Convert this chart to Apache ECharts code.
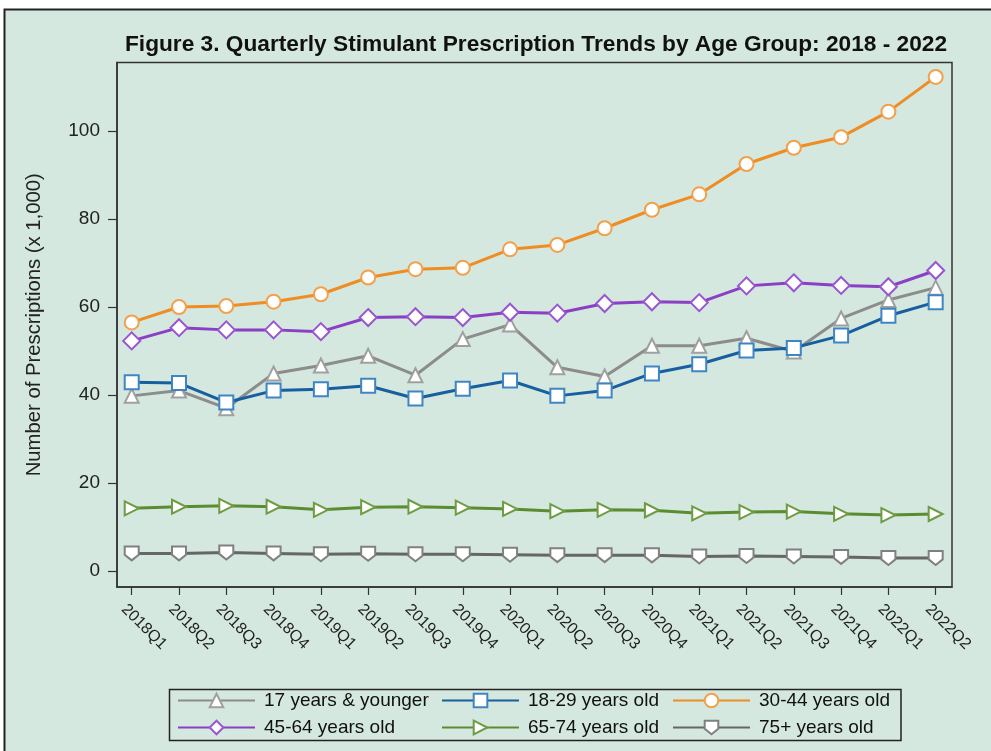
<!DOCTYPE html>
<html>
<head>
<meta charset="utf-8">
<script src="https://cdn.jsdelivr.net/npm/echarts@6/dist/echarts.min.js"></script>
<style>
html,body{margin:0;padding:0;background:#ffffff;}
#chart{width:991px;height:751px;}
</style>
</head>
<body>
<div id="chart"></div>
<script>
const categories = ['2018Q1','2018Q2','2018Q3','2018Q4','2019Q1','2019Q2','2019Q3','2019Q4','2020Q1','2020Q2','2020Q3','2020Q4','2021Q1','2021Q2','2021Q3','2021Q4','2022Q1','2022Q2'];
const age17Under = [39.8,41.0,37.0,44.9,46.7,48.9,44.5,52.7,56.0,46.3,44.2,51.2,51.2,52.9,49.9,57.4,61.6,64.4];
const age18to29 = [42.9,42.7,38.3,41.0,41.3,42.1,39.2,41.4,43.3,39.8,41.0,44.9,47.0,50.1,50.7,53.5,58.0,61.1];
const age30to44 = [56.5,60.0,60.2,61.2,62.9,66.7,68.6,68.9,73.1,74.1,77.9,82.1,85.6,92.5,96.2,98.6,104.4,112.3];
const age45to64 = [52.3,55.3,54.8,54.8,54.4,57.6,57.8,57.6,58.8,58.6,60.8,61.2,61.0,64.8,65.5,64.9,64.6,68.3];
const age65to74 = [14.25,14.6,14.8,14.6,13.9,14.5,14.6,14.4,14.1,13.6,13.9,13.8,13.1,13.4,13.5,13.0,12.7,12.95];
const age75Plus = [4.0,4.0,4.2,4.0,3.8,3.9,3.8,3.8,3.7,3.6,3.6,3.55,3.3,3.4,3.3,3.2,2.95,2.95];
const yTicks = [0,20,40,60,80,100];
const seriesNames = ['17 years & younger','18-29 years old','30-44 years old','45-64 years old','65-74 years old','75+ years old'];

const FONT = '"Liberation Sans", Arial, sans-serif';
const pts = arr => arr.map((v, i) => [i, v]);
const xIdx = categories.map((c, i) => i);

function mk(name, data, lineColor, markerBorder, symbol, size) {
  return {
    name: name, type: 'line', data: pts(data),
    symbol: symbol, symbolSize: size,
    lineStyle: {color: lineColor, width: 3},
    itemStyle: {color: '#ffffff', borderColor: markerBorder, borderWidth: 2},
    emphasis: {disabled: true},
    animation: false
  };
}

const legendText = {fontFamily: FONT, fontSize: 19, color: '#111', padding: [0,0,0,4]};

const chart = echarts.init(document.getElementById('chart'), null, {renderer: 'canvas'});
const option = {
  backgroundColor: 'transparent',
  animation: false,
  title: {
    text: 'Figure 3. Quarterly Stimulant Prescription Trends by Age Group: 2018 - 2022',
    left: 531, top: 28, textAlign: 'center',
    textStyle: {fontFamily: FONT, fontSize: 22.7, fontWeight: 'bold', color: '#111'}
  },
  graphic: [
    {type: 'rect', z: -10, shape: {x: 4.5, y: 9.5, width: 1100, height: 900},
     style: {fill: '#d4e8df', stroke: '#222', lineWidth: 2}},
    {type: 'rect', z: 10, shape: {x: 169.5, y: 689.5, width: 731.5, height: 51},
     style: {fill: 'none', stroke: '#222', lineWidth: 1.5}}
  ],
  grid: {left: 117, top: 62.5, right: 39, bottom: 164, show: true, borderColor: '#333', borderWidth: 1.5, backgroundColor: 'transparent'},
  xAxis: {
    type: 'value', min: -0.311, max: 17.345,
    axisLine: {show: true, onZero: false, lineStyle: {color: '#333', width: 1.5}},
    axisTick: {show: true, customValues: xIdx, length: 8, lineStyle: {color: '#333', width: 1.2}},
    axisLabel: {customValues: xIdx, formatter: v => categories[Math.round(v)], rotate: -45, margin: 12,
      verticalAlign: 'top', lineHeight: 22,
      fontFamily: FONT, fontSize: 16, color: '#222'},
    splitLine: {show: false}
  },
  yAxis: {
    type: 'value', min: -3.64, max: 115.57,
    name: 'Number of Prescriptions (x 1,000)', nameLocation: 'middle', nameGap: 73,
    nameTextStyle: {fontFamily: FONT, fontSize: 20.3, color: '#222'},
    axisLine: {show: true, onZero: false, lineStyle: {color: '#333', width: 1.5}},
    axisTick: {show: true, customValues: yTicks, length: 9, lineStyle: {color: '#333', width: 1.2}},
    axisLabel: {customValues: yTicks, margin: 17, fontFamily: FONT, fontSize: 19, color: '#222'},
    splitLine: {show: false}
  },
  legend: [
    {data: [seriesNames[0], seriesNames[3]], orient: 'vertical', left: 177, top: 691, padding: 0,
     itemWidth: 77, itemHeight: 17, itemGap: 8, textStyle: legendText},
    {data: [seriesNames[1], seriesNames[4]], orient: 'vertical', left: 441, top: 691, padding: 0,
     itemWidth: 77, itemHeight: 17, itemGap: 8, textStyle: legendText},
    {data: [seriesNames[2], seriesNames[5]], orient: 'vertical', left: 672, top: 691, padding: 0,
     itemWidth: 77, itemHeight: 17, itemGap: 8, textStyle: legendText}
  ],
  series: [
    mk(seriesNames[0], age17Under, '#8c8c8c', '#a0a0a0', 'triangle', 14),
    mk(seriesNames[1], age18to29, '#175f9e', '#3f85c4', 'rect', 14),
    mk(seriesNames[2], age30to44, '#ef8c22', '#f3a04c', 'circle', 14),
    mk(seriesNames[3], age45to64, '#8a3fc4', '#9a55d0', 'diamond', 17),
    mk(seriesNames[4], age65to74, '#5b8c31', '#6e9c44', 'path://M0,0 L10,5 L0,10 Z', 14),
    mk(seriesNames[5], age75Plus, '#666666', '#808080', 'path://M0,0 L10,0 L10,6 L5,10 L0,6 Z', 14)
  ]
};
chart.setOption(option);
</script>
</body>
</html>
